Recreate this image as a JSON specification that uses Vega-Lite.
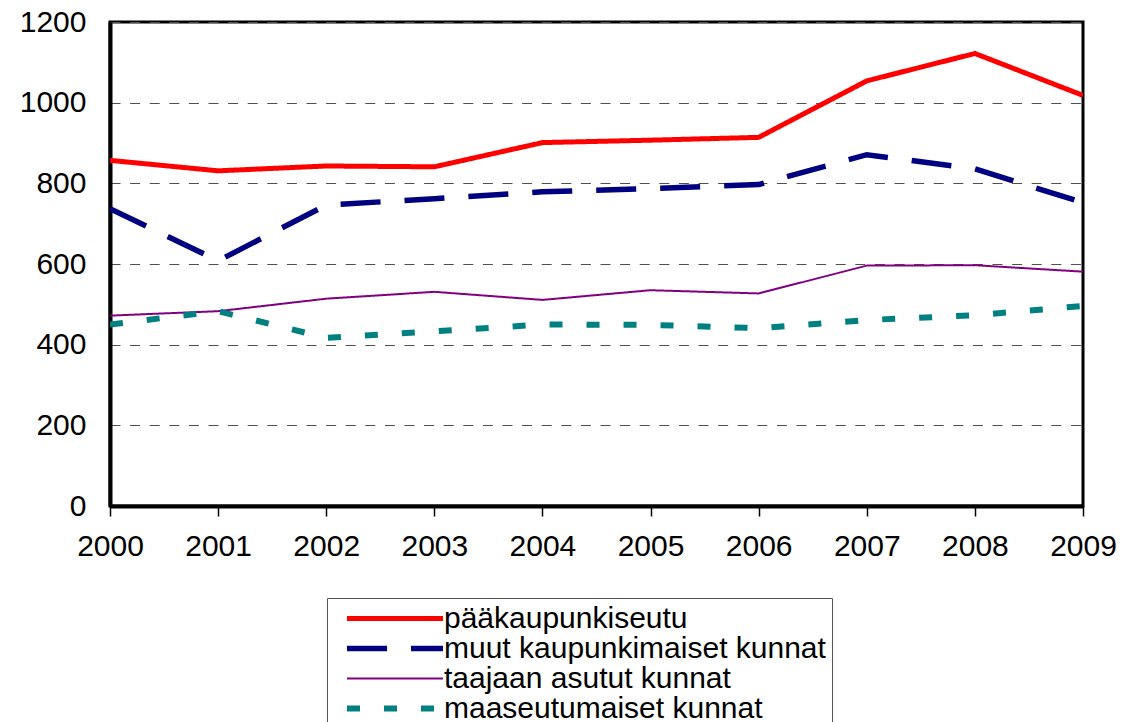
{
  "$schema": "https://vega.github.io/schema/vega-lite/v6.json",
  "width": 973,
  "height": 484,
  "autosize": {"type": "none"},
  "padding": {"left": 110, "top": 22, "right": 39, "bottom": 216},
  "background": "white",
  "config": {
    "font": "Liberation Sans",
    "view": {"stroke": "black", "strokeWidth": 3}
  },
  "data": {
    "values": [
      {"year": 2000, "series": "pääkaupunkiseutu", "value": 857},
      {"year": 2001, "series": "pääkaupunkiseutu", "value": 831},
      {"year": 2002, "series": "pääkaupunkiseutu", "value": 843},
      {"year": 2003, "series": "pääkaupunkiseutu", "value": 841},
      {"year": 2004, "series": "pääkaupunkiseutu", "value": 901},
      {"year": 2005, "series": "pääkaupunkiseutu", "value": 907},
      {"year": 2006, "series": "pääkaupunkiseutu", "value": 914},
      {"year": 2007, "series": "pääkaupunkiseutu", "value": 1054},
      {"year": 2008, "series": "pääkaupunkiseutu", "value": 1122},
      {"year": 2009, "series": "pääkaupunkiseutu", "value": 1018},
      {"year": 2000, "series": "muut kaupunkimaiset kunnat", "value": 737},
      {"year": 2001, "series": "muut kaupunkimaiset kunnat", "value": 608},
      {"year": 2002, "series": "muut kaupunkimaiset kunnat", "value": 746},
      {"year": 2003, "series": "muut kaupunkimaiset kunnat", "value": 762},
      {"year": 2004, "series": "muut kaupunkimaiset kunnat", "value": 779},
      {"year": 2005, "series": "muut kaupunkimaiset kunnat", "value": 787},
      {"year": 2006, "series": "muut kaupunkimaiset kunnat", "value": 797},
      {"year": 2007, "series": "muut kaupunkimaiset kunnat", "value": 871},
      {"year": 2008, "series": "muut kaupunkimaiset kunnat", "value": 836},
      {"year": 2009, "series": "muut kaupunkimaiset kunnat", "value": 752},
      {"year": 2000, "series": "taajaan asutut kunnat", "value": 472},
      {"year": 2001, "series": "taajaan asutut kunnat", "value": 483},
      {"year": 2002, "series": "taajaan asutut kunnat", "value": 514},
      {"year": 2003, "series": "taajaan asutut kunnat", "value": 531},
      {"year": 2004, "series": "taajaan asutut kunnat", "value": 511},
      {"year": 2005, "series": "taajaan asutut kunnat", "value": 535},
      {"year": 2006, "series": "taajaan asutut kunnat", "value": 527},
      {"year": 2007, "series": "taajaan asutut kunnat", "value": 596},
      {"year": 2008, "series": "taajaan asutut kunnat", "value": 597},
      {"year": 2009, "series": "taajaan asutut kunnat", "value": 581},
      {"year": 2000, "series": "maaseutumaiset kunnat", "value": 450},
      {"year": 2001, "series": "maaseutumaiset kunnat", "value": 483},
      {"year": 2002, "series": "maaseutumaiset kunnat", "value": 417},
      {"year": 2003, "series": "maaseutumaiset kunnat", "value": 433},
      {"year": 2004, "series": "maaseutumaiset kunnat", "value": 450},
      {"year": 2005, "series": "maaseutumaiset kunnat", "value": 449},
      {"year": 2006, "series": "maaseutumaiset kunnat", "value": 441},
      {"year": 2007, "series": "maaseutumaiset kunnat", "value": 461},
      {"year": 2008, "series": "maaseutumaiset kunnat", "value": 473},
      {"year": 2009, "series": "maaseutumaiset kunnat", "value": 496}
    ]
  },
  "mark": {"type": "line", "clip": true},
  "encoding": {
    "x": {
      "field": "year",
      "type": "quantitative",
      "scale": {"domain": [2000, 2009], "nice": false, "zero": false},
      "axis": {
        "values": [2000, 2001, 2002, 2003, 2004, 2005, 2006, 2007, 2008, 2009],
        "format": "d",
        "title": null,
        "grid": false,
        "domainColor": "black",
        "domainWidth": 4,
        "tickColor": "black",
        "tickWidth": 1.5,
        "tickSize": 10,
        "labelFontSize": 30,
        "labelColor": "black",
        "labelPadding": 15,
        "labelFlush": false,
        "labelOverlap": false
      }
    },
    "y": {
      "field": "value",
      "type": "quantitative",
      "scale": {"domain": [0, 1200], "nice": false},
      "axis": {
        "values": [0, 200, 400, 600, 800, 1000, 1200],
        "format": "d",
        "title": null,
        "ticks": false,
        "tickSize": 0,
        "labelPadding": 24,
        "labelFontSize": 30,
        "labelColor": "black",
        "domainColor": "black",
        "domainWidth": 4,
        "grid": true,
        "gridColor": "#505050",
        "gridDash": [10, 9.6],
        "gridWidth": 1
      }
    },
    "color": {
      "field": "series",
      "type": "nominal",
      "scale": {
        "domain": ["pääkaupunkiseutu", "muut kaupunkimaiset kunnat", "taajaan asutut kunnat", "maaseutumaiset kunnat"],
        "range": ["#ff0000", "#000080", "#800080", "#008080"]
      },
      "legend": {
        "orient": "none",
        "legendX": 217,
        "legendY": 576,
        "title": null,
        "symbolType": "stroke",
        "symbolSize": 9216,
        "clipHeight": 29,
        "rowPadding": -1.5,
        "padding": 6,
        "symbolOffset": 11,
        "labelOffset": -2,
        "labelFontSize": 30,
        "labelColor": "black",
        "labelLimit": 1000,
        "strokeColor": "#555555"
      }
    },
    "strokeDash": {
      "field": "series",
      "type": "nominal",
      "scale": {
        "domain": ["pääkaupunkiseutu", "muut kaupunkimaiset kunnat", "taajaan asutut kunnat", "maaseutumaiset kunnat"],
        "range": [[1, 0], [40, 24], [1, 0], [13, 24]]
      }
    },
    "strokeWidth": {
      "field": "series",
      "type": "nominal",
      "scale": {
        "type": "ordinal",
        "domain": ["pääkaupunkiseutu", "muut kaupunkimaiset kunnat", "taajaan asutut kunnat", "maaseutumaiset kunnat"],
        "range": [5, 5.5, 2, 6]
      }
    }
  }
}
